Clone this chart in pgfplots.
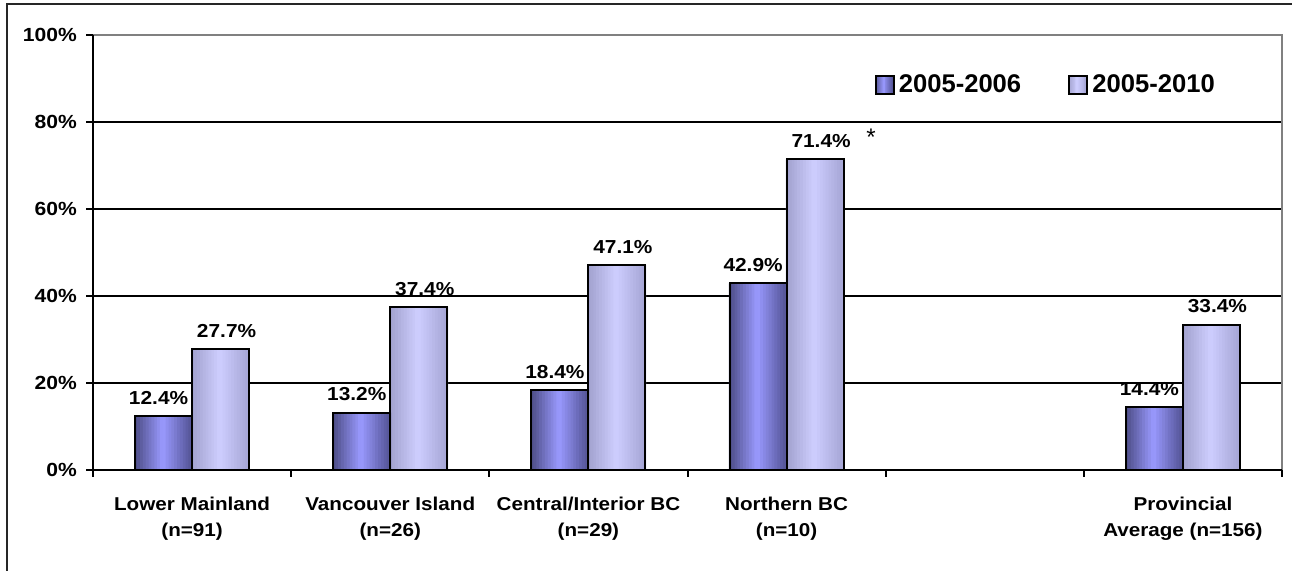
\documentclass[border=0pt]{standalone}
\usepackage{pgfplots}
\usepackage{pgfplotstable}
\pgfplotsset{compat=1.18}
\usepackage{fontspec}
\setmainfont{Liberation Sans}
\newfontfamily\widefont[FakeStretch=1.11]{Liberation Sans}

% bar shading colours (edge / centre)
\definecolor{dkL}{HTML}{4A4A82}
\definecolor{dkM}{HTML}{9A9AFF}
\definecolor{dkR}{HTML}{545496}
\definecolor{ltL}{HTML}{A0A0CC}
\definecolor{ltM}{HTML}{CECEFF}
\definecolor{ltR}{HTML}{A6A6D6}

% horizontal gradient sampled in 20 vertical strips
\foreach \i in {0,...,19}{%
  \pgfmathsetmacro\t{(\i+0.5)/20}%
  \pgfmathsetmacro\p{\t<0.5 ? 200*\t : 200*(1-\t)}%
  \ifdim\t pt<0.5pt
    \xglobal\colorlet{dk\i}{dkM!\p!dkL}%
    \xglobal\colorlet{lt\i}{ltM!\p!ltL}%
  \else
    \xglobal\colorlet{dk\i}{dkM!\p!dkR}%
    \xglobal\colorlet{lt\i}{ltM!\p!ltR}%
  \fi
}

\pgfplotstableread{
x  y
0  12.4
1  13.2
2  18.4
3  42.9
5  14.4
}\shortperiod
\pgfplotstableread{
x  y
0  27.7
1  37.4
2  47.1
3  71.4
5  33.4
}\longperiod

\begin{document}
\begin{tikzpicture}[font=\bfseries]
\path[use as bounding box] (0,0) rectangle (646pt,285.5pt);
\draw[line width=1pt, black!85] (3.5pt,-1pt) -- (3.5pt,283.5pt) -- (647pt,283.5pt);
\begin{axis}[
  at={(46.5pt,50.5pt)}, anchor=south west,
  scale only axis, width=594.5pt, height=217.5pt,
  xmin=-0.5, xmax=5.5, ymin=0, ymax=100,
  axis line style={draw=none},
  ybar=0pt,
  ytick={0,20,40,60,80,100},
  yticklabels={0\%,20\%,40\%,60\%,80\%,100\%},
  yticklabel style={font=\widefont\bfseries\fontsize{9.5}{11}\selectfont, xshift=-1pt},
  xtick={0,1,2,3,4,5},
  xticklabels={{Lower Mainland\\(n=91)},{Vancouver Island\\(n=26)},{Central/Interior BC\\(n=29)},{Northern BC\\(n=10)},{},{Provincial\\Average (n=156)}},
  xticklabel style={align=center, font=\widefont\bfseries\fontsize{9.3}{13}\selectfont, yshift=-6.5pt},
  minor xtick={-0.5,0.5,...,5.5},
  major x tick style={draw=none},
  tick align=outside, xtick pos=bottom, ytick pos=left,
  major tick length=3.5pt, minor tick length=3.5pt,
  tick style={black, line width=1pt},
  ymajorgrids, grid style={black, line width=1pt},
  legend columns=2,
  legend style={at={(0.652,0.885)}, anchor=west, draw=none, fill=none,
    font=\bfseries\fontsize{12.8}{14}\selectfont,
    /tikz/every even column/.append style={column sep=21.5pt}},
  clip=false,
]
% gradient fill of the bars, strip by strip
\pgfplotsinvokeforeach{0,...,19}{
  \addplot[draw=none, fill=dk#1, bar width=2.2pt, bar shift={(#1+0.5)*1.425pt-28.5pt}, forget plot]
    table[x=x, y=y] {\shortperiod};
  \addplot[draw=none, fill=lt#1, bar width=2.2pt, bar shift={(#1+0.5)*1.425pt}, forget plot]
    table[x=x, y=y] {\longperiod};
}
% outlines and value labels
\addplot[draw=black, fill=none, line width=1pt, bar width=28.5pt, bar shift=-14.25pt,
  nodes near coords={\pgfmathprintnumber[fixed,fixed zerofill,precision=1,assume math mode=true]{\pgfplotspointmeta}\%},
  every node near coord/.append style={font=\widefont\bfseries\fontsize{9.4}{11}\selectfont, yshift=2pt, xshift=-2.5pt, black},
  legend image code/.code={%
    \foreach \k in {0,...,19}{\fill[dk\k] ({\k*0.45pt},-4.5pt) rectangle ({(\k+1)*0.45pt+0.1pt},4.5pt);}
    \draw[line width=1pt, black] (0pt,-4.5pt) rectangle (9pt,4.5pt);}]
  table[x=x, y=y] {\shortperiod};
\addplot[draw=black, fill=none, line width=1pt, bar width=28.5pt, bar shift=14.25pt,
  nodes near coords={\pgfmathprintnumber[fixed,fixed zerofill,precision=1,assume math mode=true]{\pgfplotspointmeta}\%},
  every node near coord/.append style={font=\widefont\bfseries\fontsize{9.4}{11}\selectfont, yshift=2pt, xshift=3pt, black},
  legend image code/.code={%
    \foreach \k in {0,...,19}{\fill[lt\k] ({\k*0.45pt},-4.5pt) rectangle ({(\k+1)*0.45pt+0.1pt},4.5pt);}
    \draw[line width=1pt, black] (0pt,-4.5pt) rectangle (9pt,4.5pt);}]
  table[x=x, y=y] {\longperiod};
\legend{2005-2006,2005-2010}
% plot frame: grey top and right, black left and bottom
\draw[line width=1pt, gray] (rel axis cs:0,1) -- (rel axis cs:1,1) -- (rel axis cs:1,0);
\draw[line width=1pt, black] (rel axis cs:0,1) -- (rel axis cs:0,0) -- (rel axis cs:1,0);
\node[font=\fontsize{12}{13}\selectfont] at (axis cs:3.426,76.5) {*};
\end{axis}
\end{tikzpicture}
\end{document}
